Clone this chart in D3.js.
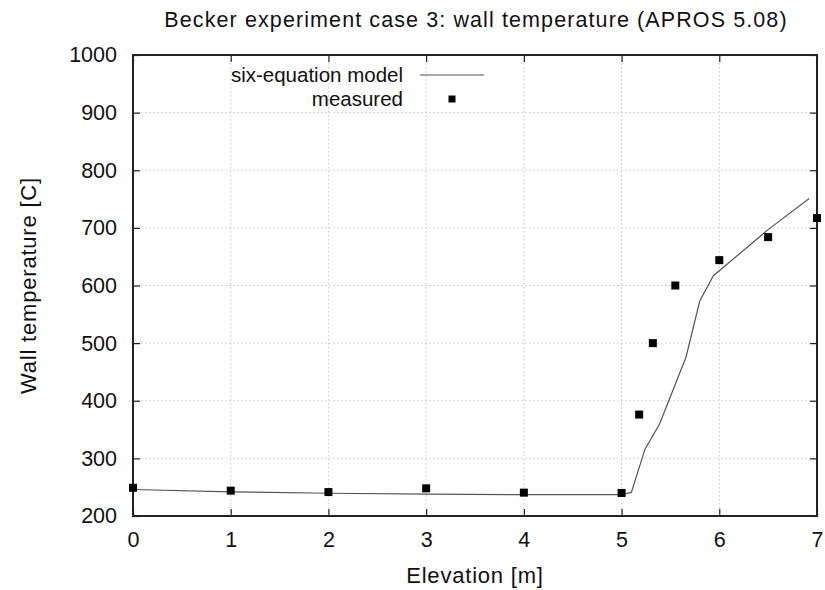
<!DOCTYPE html>
<html>
<head>
<meta charset="utf-8">
<script src="https://cdn.jsdelivr.net/npm/d3@7"></script>
<style>
  body { margin: 0; background: #fff; }
  svg { display: block; font-family: "Liberation Sans", Arial, sans-serif; }
</style>
</head>
<body>
<svg id="chart" width="825" height="590"></svg>
<script>
// Six-equation model: computed wall temperature along the elevation
const modelElevation = [0, 1, 2, 3, 4, 5, 5.10, 5.24, 5.39, 5.66, 5.80, 5.94, 6.5, 6.92];
const modelTemp      = [246, 242, 239.5, 238, 237, 237, 241, 316, 360, 476, 573, 617, 697, 751];

// Measured wall temperature
const measElevation = [0, 1, 2, 3, 4, 5, 5.18, 5.32, 5.55, 6, 6.5, 7];
const measTemp      = [249, 244, 241.5, 248, 240.5, 240, 376, 500, 600, 644, 684, 717];

const xTicks = [0, 1, 2, 3, 4, 5, 6, 7];
const yTicks = [200, 300, 400, 500, 600, 700, 800, 900, 1000];

const svg = d3.select("#chart");
const m = { left: 133, right: 817, top: 55, bottom: 516 };
const FS = "21.5px";

const x = d3.scaleLinear().domain([0, 7]).range([m.left, m.right]);
const y = d3.scaleLinear().domain([200, 1000]).range([m.bottom, m.top]);

// dotted grid
const grid = svg.append("g").attr("stroke", "#b8b8b8").attr("stroke-width", 0.8)
  .attr("stroke-dasharray", "1.5,2.5");
grid.selectAll(".gx").data(xTicks.slice(1, -1)).join("line")
  .attr("x1", d => x(d)).attr("x2", d => x(d)).attr("y1", m.top).attr("y2", m.bottom);
grid.selectAll(".gy").data(yTicks.slice(1, -1)).join("line")
  .attr("x1", m.left).attr("x2", m.right).attr("y1", d => y(d)).attr("y2", d => y(d));

// frame axes with inward ticks on all sides
const tickLen = 7;
function styleAxis(g) {
  g.select(".domain").remove();
  g.selectAll(".tick line").attr("stroke", "#222").attr("stroke-width", 1.2);
  g.selectAll(".tick text").attr("fill", "#111").style("font-size", FS)
    .style("font-family", "\"Liberation Sans\", Arial, sans-serif");
}
svg.append("g").attr("transform", `translate(0,${m.bottom})`)
  .call(d3.axisBottom(x).tickValues(xTicks).tickFormat(d3.format("d")).tickSizeInner(-tickLen).tickPadding(16))
  .call(styleAxis);
svg.append("g").attr("transform", `translate(0,${m.top})`)
  .call(d3.axisTop(x).tickValues(xTicks).tickFormat("").tickSizeInner(-tickLen))
  .call(styleAxis);
svg.append("g").attr("transform", `translate(${m.left},0)`)
  .call(d3.axisLeft(y).tickValues(yTicks).tickFormat(d3.format("d")).tickSizeInner(-tickLen).tickPadding(16))
  .call(styleAxis);
svg.append("g").attr("transform", `translate(${m.right},0)`)
  .call(d3.axisRight(y).tickValues(yTicks).tickFormat("").tickSizeInner(-tickLen))
  .call(styleAxis);

svg.append("rect")
  .attr("x", m.left).attr("y", m.top)
  .attr("width", m.right - m.left).attr("height", m.bottom - m.top)
  .attr("fill", "none").attr("stroke", "#222").attr("stroke-width", 2);

// model line
const line = d3.line().x(d => x(d[0])).y(d => y(d[1]));
svg.append("path")
  .datum(d3.zip(modelElevation, modelTemp))
  .attr("d", line)
  .attr("fill", "none").attr("stroke", "#555").attr("stroke-width", 1.2);

// measured points
const sq = 8;
svg.append("g").selectAll("rect")
  .data(d3.zip(measElevation, measTemp)).join("rect")
  .attr("x", d => x(d[0]) - sq / 2).attr("y", d => y(d[1]) - sq / 2)
  .attr("width", sq).attr("height", sq).attr("fill", "#000");

// legend
const leg = svg.append("g").style("font-size", "20.5px").attr("fill", "#111");
leg.append("text").attr("x", 403).attr("y", 82).attr("text-anchor", "end").text("six-equation model");
leg.append("line").attr("x1", 420).attr("x2", 484).attr("y1", 75).attr("y2", 75)
  .attr("stroke", "#555").attr("stroke-width", 1.2);
leg.append("text").attr("x", 403).attr("y", 106).attr("text-anchor", "end").text("measured");
leg.append("rect").attr("x", 452 - 3.5).attr("y", 99 - 3.5).attr("width", 7).attr("height", 7).attr("fill", "#000");

// titles
svg.append("text").attr("x", 476).attr("y", 27).attr("text-anchor", "middle")
  .style("font-size", FS).style("letter-spacing", "1.1px").attr("fill", "#111")
  .text("Becker experiment case 3: wall temperature (APROS 5.08)");
svg.append("text").attr("x", 475).attr("y", 583).attr("text-anchor", "middle")
  .style("font-size", "22px").style("letter-spacing", "0.8px").attr("fill", "#111").text("Elevation [m]");
svg.append("text").attr("transform", `translate(36,${(m.top + m.bottom) / 2}) rotate(-90)`)
  .attr("text-anchor", "middle").style("font-size", "22px").style("letter-spacing", "0.8px").attr("fill", "#111")
  .text("Wall temperature [C]");
</script>
</body>
</html>
